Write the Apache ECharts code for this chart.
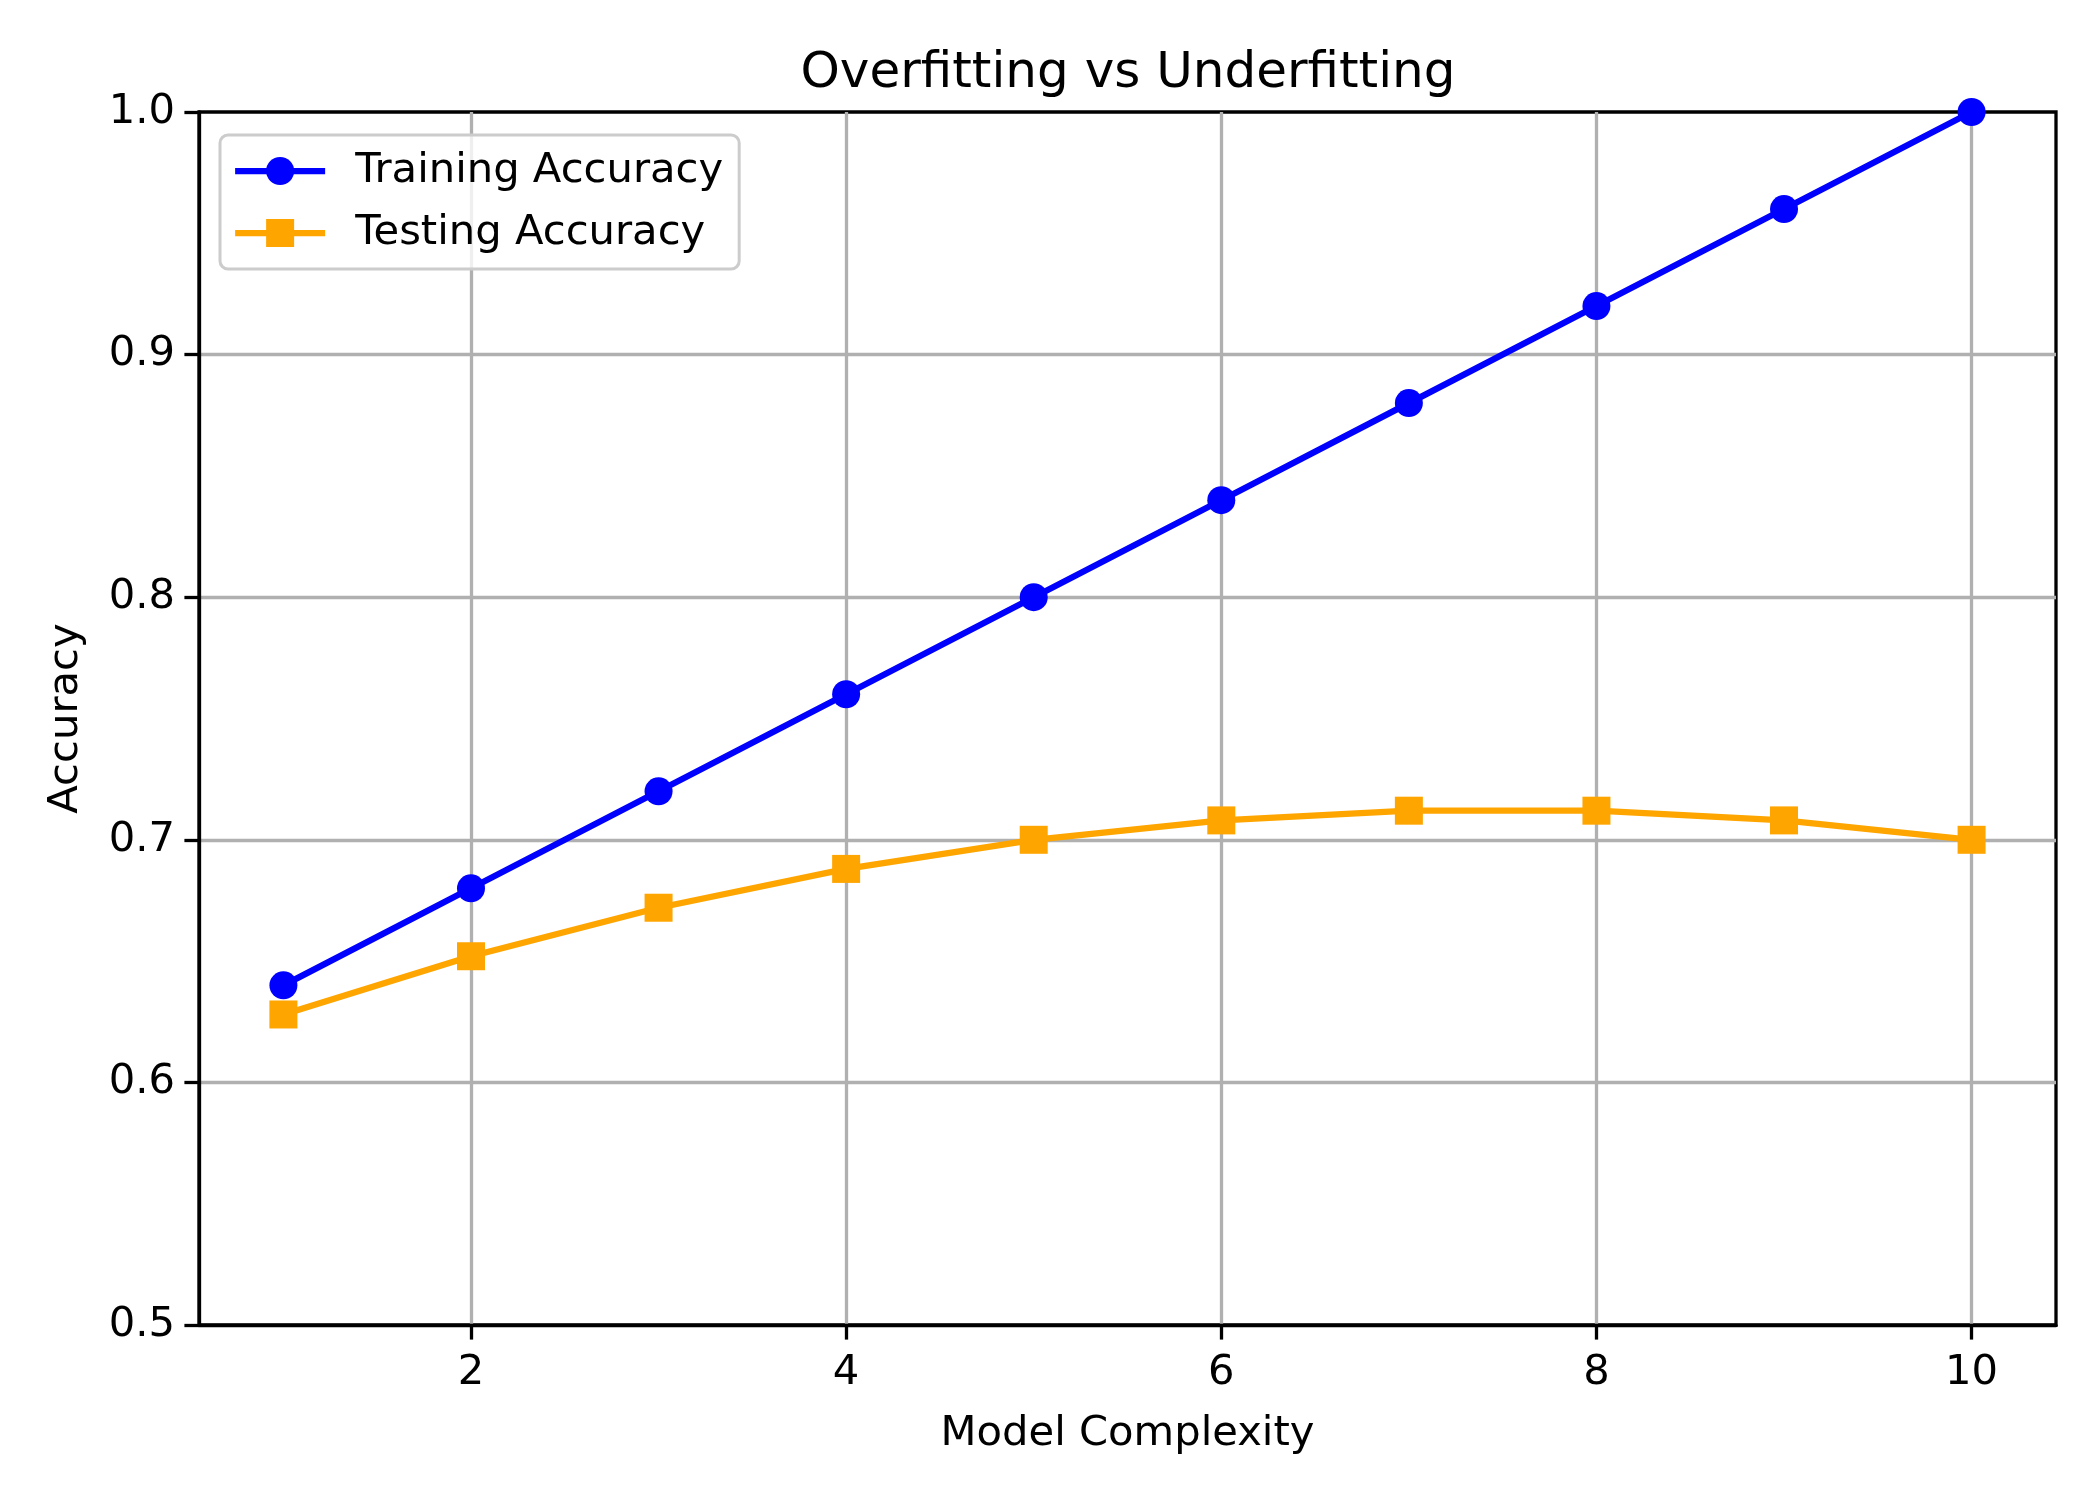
<!DOCTYPE html>
<html>
<head>
<meta charset="utf-8">
<script src="https://cdn.jsdelivr.net/npm/echarts@6/dist/echarts.min.js"></script>
<style>
	html, body { margin: 0; padding: 0; background: #ffffff; }
	#chart { width: 2100px; height: 1500px; }
</style>
</head>
<body>
<div id="chart"></div>
<script>
//Chart data
const complexity = [1, 2, 3, 4, 5, 6, 7, 8, 9, 10];
const training_accuracy = [0.64, 0.68, 0.72, 0.76, 0.80, 0.84, 0.88, 0.92, 0.96, 1.00];
const testing_accuracy = [0.628, 0.652, 0.672, 0.688, 0.700, 0.708, 0.712, 0.712, 0.708, 0.700];
const x_ticks = [2, 4, 6, 8, 10];

//Declare local instance variables
let font_family = "DejaVu Sans";
let axis_colour = "#000000";
let grid_colour = "#b0b0b0";

let toPairs = (arg0_x, arg1_y) => arg0_x.map((local_x, i) => [local_x, arg1_y[i]]);

let chart = echarts.init(document.getElementById("chart"), null, { renderer: "canvas" });

let chart_options = {
	backgroundColor: "#ffffff",
	animation: false,
	textStyle: { fontFamily: font_family },
	title: {
		text: "Overfitting vs Underfitting",
		left: 1128,
		top: 49,
		padding: 0,
		textAlign: "center",
		textStyle: { fontFamily: font_family, fontSize: 50, fontWeight: "normal", color: "#000000" }
	},
	grid: {
		left: 199,
		right: 44,
		top: 112,
		bottom: 175,
		show: true,
		borderColor: axis_colour,
		borderWidth: 3.3,
		backgroundColor: "transparent",
		outerBoundsMode: "none"
	},
	legend: {
		orient: "vertical",
		left: 220,
		top: 135,
		padding: [15, 16, 15, 12],
		itemGap: 20,
		itemWidth: 90,
		itemHeight: 35,
		backgroundColor: "rgba(255,255,255,0.8)",
		borderColor: "#cccccc",
		borderWidth: 3,
		borderRadius: 8,
		lineStyle: { width: 6.25 },
		textStyle: { fontFamily: font_family, fontSize: 41.7, color: "#000000", padding: [0, 0, 0, 25] },
		data: ["Training Accuracy", "Testing Accuracy"]
	},
	xAxis: {
		type: "value",
		min: 0.55,
		max: 10.45,
		name: "Model Complexity",
		nameLocation: "middle",
		nameGap: 88,
		nameTextStyle: { fontFamily: font_family, fontSize: 41.7, color: "#000000" },
		axisLine: { show: true, onZero: false, lineStyle: { color: axis_colour, width: 3.3 } },
		axisTick: { show: true, inside: false, length: 14.6, customValues: x_ticks, lineStyle: { color: axis_colour, width: 3.3 } },
		axisLabel: { show: true, margin: 27, customValues: x_ticks, fontFamily: font_family, fontSize: 41.7, color: "#000000" },
		splitLine: { show: true, lineStyle: { color: grid_colour, width: 3.3 } }
	},
	yAxis: {
		type: "value",
		min: 0.5,
		max: 1.0,
		interval: 0.1,
		name: "Accuracy",
		nameLocation: "middle",
		nameGap: 112,
		nameTextStyle: { fontFamily: font_family, fontSize: 41.7, color: "#000000" },
		axisLine: { show: true, onZero: false, lineStyle: { color: axis_colour, width: 3.3 } },
		axisTick: { show: true, inside: false, length: 14.6, lineStyle: { color: axis_colour, width: 3.3 } },
		axisLabel: {
			show: true, margin: 24, fontFamily: font_family, fontSize: 41.7, color: "#000000",
			formatter: (local_value) => local_value.toFixed(1)
		},
		splitLine: { show: true, showMinLine: false, showMaxLine: false, lineStyle: { color: grid_colour, width: 3.3 } }
	},
	series: [
		{
			name: "Training Accuracy",
			type: "line",
			data: toPairs(complexity, training_accuracy),
			symbol: "circle",
			symbolSize: 28,
			z: 3,
			clip: true,
			itemStyle: { color: "#0000ff" },
			lineStyle: { color: "#0000ff", width: 6.25 }
		},
		{
			name: "Testing Accuracy",
			type: "line",
			data: toPairs(complexity, testing_accuracy),
			symbol: "rect",
			symbolSize: 28,
			z: 3,
			clip: true,
			itemStyle: { color: "#ffa500" },
			lineStyle: { color: "#ffa500", width: 6.25 }
		}
	]
};

chart.setOption(chart_options);
</script>
</body>
</html>
